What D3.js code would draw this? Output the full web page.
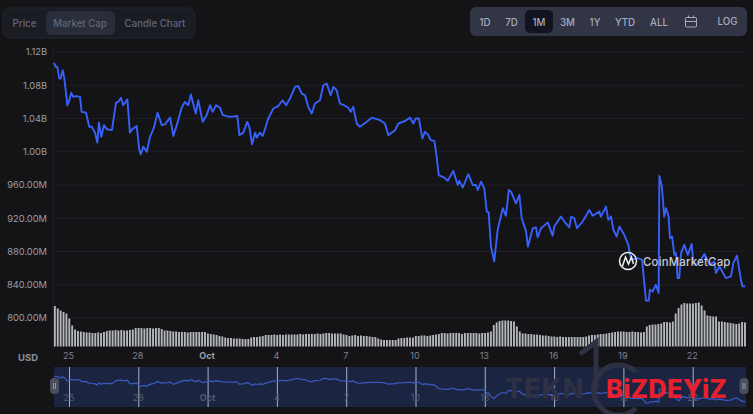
<!DOCTYPE html>
<html>
<head>
<meta charset="utf-8">
<script src="https://cdn.jsdelivr.net/npm/d3@7"></script>
<style>
  html, body { margin: 0; padding: 0; background: #141416; overflow: hidden; }
  svg { display: block; font-family: Inter, "Noto Sans", sans-serif; }
</style>
</head>
<body>
<script>
const width = 753;
const height = 414;

// days since 25 Sep
const capDays = [-0.61,-0.52,-0.46,-0.38,-0.32,-0.23,-0.17,-0.10,-0.03,0.06,0.14,0.23,0.35,0.52,0.59,0.78,0.92,1.03,1.17,1.27,1.34,1.44,1.56,1.68,1.90,2.08,2.18,2.29,2.39,2.57,2.68,2.78,2.97,3.09,3.15,3.26,3.41,3.55,3.72,3.88,4.06,4.20,4.42,4.56,4.71,4.92,5.06,5.21,5.32,5.53,5.64,5.83,6.0,6.15,6.26,6.41,6.58,6.70,7.01,7.33,7.42,7.59,7.76,7.85,7.97,8.10,8.17,8.31,8.43,8.67,8.89,9.10,9.29,9.44,9.61,9.83,9.97,10.12,10.26,10.40,10.55,10.69,10.91,11.05,11.20,11.37,11.49,11.63,11.77,11.95,12.13,12.24,12.35,12.50,12.64,12.93,13.15,13.51,13.72,13.87,14.16,14.30,14.59,14.81,14.95,15.05,15.19,15.34,15.45,15.60,15.70,15.86,15.95,16.05,16.29,16.44,16.68,16.87,16.94,17.09,17.33,17.52,17.66,17.74,17.88,18.02,18.13,18.21,18.31,18.45,18.60,18.82,18.96,19.08,19.18,19.39,19.54,19.64,19.83,19.91,20.12,20.26,20.33,20.48,20.77,20.98,21.05,21.34,21.49,21.70,21.78,21.92,22.03,22.28,22.57,22.71,23.0,23.07,23.29,23.39,23.51,23.61,23.75,23.87,24.08,24.26,24.37,24.66,24.85,24.95,25.02,25.14,25.19,25.31,25.45,25.57,25.60,25.71,25.81,25.89,26.0,26.06,26.15,26.25,26.32,26.39,26.46,26.54,26.68,26.83,27.0,27.07,27.26,27.55,27.77,27.98,28.05,28.20,28.48,28.70,28.80,28.96,29.13,29.20,29.32];

// market cap, millions USD
const capValues = [1107,1102,1102,1088,1088,1098,1090,1074,1056,1062,1071,1066,1067,1066,1048,1047,1030,1030,1023,1011,1035,1018,1032,1027,1026,1059,1060,1065,1056,1063,1023,1027,1031,1002,997,1006,1000,1018,1029,1047,1032,1033,1041,1019,1032,1053,1060,1056,1069,1046,1062,1036,1044,1056,1048,1056,1053,1044,1042,1043,1020,1023,1036,1030,1009,1023,1017,1023,1019,1040,1052,1055,1062,1056,1064,1078,1079,1070,1068,1054,1046,1058,1062,1080,1082,1068,1078,1074,1058,1056,1053,1048,1054,1034,1030,1036,1041,1038,1034,1020,1026,1034,1037,1041,1034,1040,1040,1016,1024,1020,1014,1013,996,972,969,965,977,960,965,957,973,960,960,954,964,956,928,927,886,868,906,932,923,954,952,938,948,920,904,886,908,909,897,908,915,899,910,922,916,909,922,920,908,916,930,923,928,922,934,918,922,906,898,910,900,888,870,872,870,842,821,821,834,832,840,830,971,958,922,932,922,896,898,876,878,848,848,878,888,876,889,866,864,877,864,868,854,862,848,850,866,875,846,838,838];

// volume, one bar every 3 hours
const volumeValues = [
  40.5,38,36,34.5,33,28,21,17,15.5,15,
  14.5,14,14,13.5,13.5,14,13.5,14.5,15.5,16,
  16,16.5,16,16.5,16,16,16.5,17,18.5,18.5,
  18.5,18,18.5,18.5,18,18.5,18.5,17.5,16,16,
  15.5,15,15,14.5,14.5,14.5,14,14.5,14.5,14.5,
  14.5,14.5,14.5,13,12.5,12,11.5,10.5,10,9,
  8.5,8.5,8,8,8,7.5,7.5,7.5,9,9.5,
  9.5,10,10.5,11.5,11.5,11.5,12,11.5,12,11.5,
  12,12,12,12,12,12.5,12,12.5,12.5,12.5,
  12.5,13,12.5,13,13.5,13.5,13,13,13,13,
  12,11.5,10.5,11,11.5,10.5,11,10.5,10.5,10,
  9.5,9.5,8,7,6.5,6.5,6.5,6.5,6.5,8,
  8.5,8.5,9,9,9,10.5,10.5,11,11,10.5,
  11,11.5,12,12.5,13.5,13.5,13,13.5,13.5,13.5,
  13.5,12.5,13.5,13.5,13.5,13.5,13.5,13,13.5,13.5,
  14,15,21.5,24,25.5,26,26,26,25.5,25,
  20,15,13,13,12.5,12.5,12,12,11.5,11,
  11,10.5,10,10,9.5,10,9.5,9.5,9.5,9.5,
  9.5,9.5,9.5,9.5,10,11,11.5,11.5,12,12.5,
  12.5,13,13.5,14,14.5,15,15,15,14.5,14.5,
  15,14.5,14.5,14,14.5,20,21.5,22,22,22.5,
  23,24.5,24.5,24,25,33,38.5,42,43.5,43,
  43,43,43.5,44,41,36,31,30.5,30,30,
  25,25,24.5,24,23.5,23,22.5,23,24.5,24
];

const yTickValues = [1120,1080,1040,1000,960,920,880,840,800];
const yTickLabels = ['1.12B','1.08B','1.04B','1.00B','960.00M','920.00M','880.00M','840.00M','800.00M'];
const xTickValues = [0,3,6,9,12,15,18,21,24,27];
const xTickLabels = ['25','28','Oct','4','7','10','13','16','19','22'];
const chartTabs = ['Price','Market Cap','Candle Chart'];
const rangeTabs = ['1D','7D','1M','3M','1Y','YTD','ALL'];

const svg = d3.select('body').append('svg').attr('width', width).attr('height', height);

const x = d3.scaleLinear().domain([0, 27]).range([68, 691.7]);
const y = d3.scaleLinear().domain([800, 1120]).range([318, 52]);
const yVol = d3.scaleLinear().domain([0, 44]).range([346.5, 302.5]);
const yNav = d3.scaleLinear().domain([821, 1107]).range([403, 376]);
const volDay = i => -0.61 + i / 8;
const points = capDays.map((d, i) => [d, capValues[i]]);

drawToolbars();
drawAxes();
drawVolume();
drawLine();
drawNavigator();
drawWatermarks();

function drawToolbars() {
  svg.append('rect').attr('x', 3).attr('y', 8).attr('width', 192).attr('height', 30).attr('rx', 7)
    .attr('fill', '#1a1c24').attr('stroke', '#23262f');
  svg.append('rect').attr('x', 46).attr('y', 11).attr('width', 69).attr('height', 24).attr('rx', 5).attr('fill', '#2a2d3a');
  svg.selectAll('.chart-tab').data(chartTabs).enter().append('text')
    .attr('class', 'chart-tab')
    .attr('x', (_, i) => [24.5, 80, 155][i])
    .attr('y', 26.5)
    .attr('text-anchor', 'middle')
    .attr('font-size', 9.7)
    .attr('font-weight', 500)
    .attr('fill', '#616678')
    .text(d => d);

  svg.append('rect').attr('x', 470).attr('y', 7).attr('width', 277).attr('height', 29).attr('rx', 6).attr('fill', '#323546');
  svg.append('rect').attr('x', 525).attr('y', 10).attr('width', 28).attr('height', 23).attr('rx', 5).attr('fill', '#12131e');
  svg.selectAll('.range-tab').data(rangeTabs).enter().append('text')
    .attr('class', 'range-tab')
    .attr('x', (_, i) => [485, 511.5, 539, 567.5, 595, 625, 659][i])
    .attr('y', 25.5)
    .attr('text-anchor', 'middle')
    .attr('font-size', 9.7)
    .attr('font-weight', 500)
    .attr('fill', '#a6abbd')
    .text(d => d);
  svg.append('text').attr('x', 727.5).attr('y', 24.5).attr('text-anchor', 'middle')
    .attr('font-size', 9.7).attr('font-weight', 500).attr('fill', '#a6abbd').text('LOG');

  // calendar icon
  const cal = svg.append('g').attr('fill', 'none').attr('stroke', '#a6abbd').attr('stroke-width', 1);
  cal.append('rect').attr('x', 685.5).attr('y', 17.5).attr('width', 11).attr('height', 9.5).attr('rx', 1);
  cal.append('path').attr('d', 'M685.5 21.5H696.5M688.5 15.5V18M693.5 15.5V18');
}

function drawAxes() {
  const axisY = d3.axisLeft(y).tickValues(yTickValues).tickFormat((_, i) => yTickLabels[i]).tickSize(0).tickPadding(0);
  const gy = svg.append('g').attr('transform', 'translate(47,0)').call(axisY);
  gy.select('.domain').remove();
  gy.selectAll('text').attr('font-family', 'Inter').attr('font-size', 9.3).attr('fill', '#9b9da8');

  svg.append('g').selectAll('line').data(yTickValues).enter().append('line')
    .attr('x1', 54).attr('x2', 746)
    .attr('y1', d => y(d)).attr('y2', d => y(d))
    .attr('stroke', '#1e1f24');
  svg.append('line').attr('x1', 53).attr('x2', 53).attr('y1', 46).attr('y2', 347).attr('stroke', '#1f2026');

  const axisX = d3.axisBottom(x).tickValues(xTickValues).tickFormat((_, i) => xTickLabels[i]).tickSize(0).tickPadding(0);
  const gx = svg.append('g').attr('transform', 'translate(0,353)').call(axisX);
  gx.select('.domain').remove();
  gx.selectAll('text')
    .attr('font-family', 'Inter')
    .attr('font-size', 9)
    .attr('font-weight', (_, i) => xTickLabels[i] === 'Oct' ? 700 : 400)
    .attr('fill', (_, i) => xTickLabels[i] === 'Oct' ? '#9b9da8' : '#80828c');

  svg.append('text').attr('x', 28).attr('y', 361).attr('text-anchor', 'middle')
    .attr('font-size', 9.5).attr('font-weight', 700).attr('fill', '#8d8f9a').text('USD');
}

function drawVolume() {
  svg.append('g').selectAll('rect').data(volumeValues).enter().append('rect')
    .attr('x', (_, i) => x(volDay(i)))
    .attr('y', d => yVol(d))
    .attr('width', 1.9)
    .attr('height', d => yVol(0) - yVol(d))
    .attr('fill', '#b4b7bd');
}

function drawLine() {
  const line = d3.line().x(d => x(d[0])).y(d => y(d[1]));
  svg.append('path').datum(points)
    .attr('d', line)
    .attr('fill', 'none')
    .attr('stroke', '#3861fb')
    .attr('stroke-width', 1.9)
    .attr('stroke-linejoin', 'round');
}

function drawNavigator() {
  svg.append('rect').attr('x', 54).attr('y', 367).attr('width', 692).attr('height', 40).attr('fill', '#1b2542');

  const nav = svg.append('g');
  nav.selectAll('line').data(xTickValues).enter().append('line')
    .attr('x1', d => x(d) + 1.5).attr('x2', d => x(d) + 1.5)
    .attr('y1', 367).attr('y2', 407)
    .attr('stroke', '#aab0c4')
    .attr('stroke-width', 1);
  nav.selectAll('text').data(xTickValues).enter().append('text')
    .attr('x', d => x(d) + 1)
    .attr('y', 401)
    .attr('text-anchor', 'middle')
    .attr('font-size', 9)
    .attr('font-weight', (_, i) => xTickLabels[i] === 'Oct' ? 700 : 400)
    .attr('fill', '#555b70')
    .text((_, i) => xTickLabels[i]);

  const line = d3.line().x(d => x(d[0])).y(d => yNav(d[1]));
  nav.append('path').datum(points)
    .attr('d', line)
    .attr('fill', 'none')
    .attr('stroke', '#3a5bc4')
    .attr('stroke-width', 1.2);

  // drag handles
  [54.5, 744].forEach(hx => {
    nav.append('rect').attr('x', hx - 4.5).attr('y', 378).attr('width', 9).attr('height', 16).attr('rx', 4).attr('fill', '#4b4f5c');
    nav.append('path').attr('d', `M${hx - 1} 383V389M${hx + 1} 383V389`).attr('stroke', '#b4b7bd').attr('stroke-width', 0.7);
  });
}

function drawWatermarks() {
  // CoinMarketCap mark over the line
  const logo = svg.append('g').attr('fill', 'none').attr('stroke', '#eef0f4');
  logo.append('circle').attr('cx', 628).attr('cy', 261).attr('r', 8.5).attr('stroke-width', 1.5);
  logo.append('path').attr('d', 'M622.5 266L625.5 257L628.5 264L631.5 257L633.5 264').attr('stroke-width', 1.5);
  svg.append('text').attr('x', 643).attr('y', 265.5).attr('font-size', 11.4).attr('font-weight', 500)
    .attr('fill', '#c9cbd1').attr('letter-spacing', 0.2).text('CoinMarketCap');

  // site stamp in the lower corner
  const stamp = svg.append('g');
  stamp.append('path')
    .attr('d', 'M580 354L596 342V390M636 372A25 25 0 1 0 636 408')
    .attr('fill', 'none')
    .attr('stroke', '#2e3143')
    .attr('stroke-width', 5);
  stamp.append('text').attr('x', 505).attr('y', 398).attr('font-size', 27).attr('font-weight', 800)
    .attr('letter-spacing', 1).attr('fill', '#2e3143').text('TEKN');
  stamp.append('text').attr('x', 606).attr('y', 398).attr('font-size', 25.5).attr('font-weight', 800)
    .attr('letter-spacing', 0.3).attr('fill', '#e8202e').text('BiZDEYiZ');
}
</script>
</body>
</html>
